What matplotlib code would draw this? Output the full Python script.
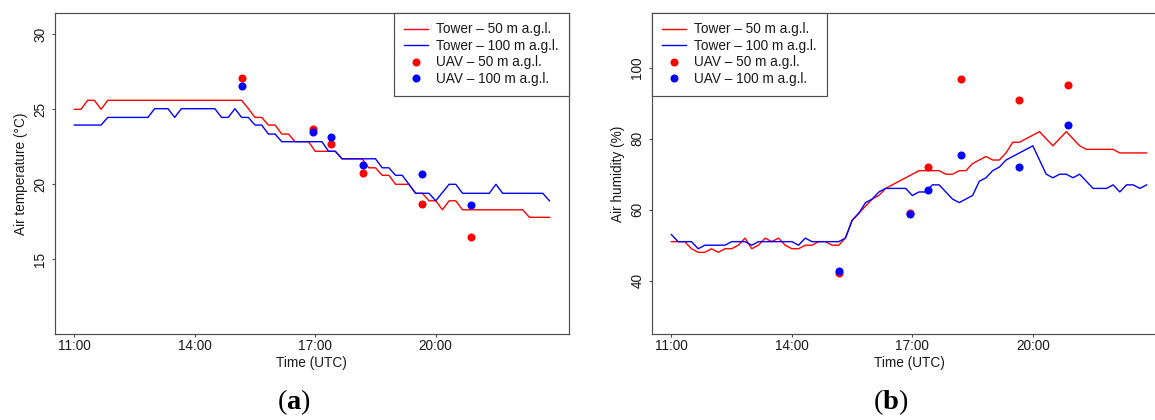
import numpy as np
import matplotlib
matplotlib.use("Agg")
import matplotlib.pyplot as plt

# ---------------- data ----------------
# tower samples every 10 min from 11:00 to 22:50 (hours since 11:00)
tower_time_h = np.arange(72) / 6.0

temp_tower_50 = [25.0, 25.0, 25.6, 25.6, 25.0, 25.6, 25.6, 25.6, 25.6, 25.6,
                 25.6, 25.6, 25.6, 25.6, 25.6, 25.6, 25.6, 25.6, 25.6, 25.6,
                 25.6, 25.6, 25.6, 25.6, 25.6, 25.6, 25.05, 24.46, 24.46, 23.95,
                 23.95, 23.35, 23.35, 22.84, 22.84, 22.84, 22.2, 22.2, 22.2, 22.2,
                 21.7, 21.7, 21.7, 21.7, 21.1, 21.1, 20.6, 20.6, 20.0, 20.0,
                 20.0, 19.4, 19.4, 18.9, 18.9, 18.3, 18.9, 18.9, 18.3, 18.3,
                 18.3, 18.3, 18.3, 18.3, 18.3, 18.3, 18.3, 18.3, 17.8, 17.8,
                 17.8, 17.8]
temp_tower_100 = [23.95, 23.95, 23.95, 23.95, 23.95, 24.46, 24.46, 24.46, 24.46, 24.46,
                  24.46, 24.46, 25.04, 25.04, 25.04, 24.46, 25.04, 25.04, 25.04, 25.04,
                  25.04, 25.04, 24.46, 24.46, 25.04, 24.46, 24.46, 23.95, 23.95, 23.35,
                  23.35, 22.84, 22.84, 22.84, 22.84, 22.84, 22.84, 22.84, 22.2, 22.2,
                  21.7, 21.7, 21.7, 21.7, 21.7, 21.7, 21.1, 21.1, 20.6, 20.6,
                  20.0, 19.4, 19.4, 19.4, 18.9, 19.45, 20.0, 20.0, 19.4, 19.4,
                  19.4, 19.4, 19.4, 20.0, 19.4, 19.4, 19.4, 19.4, 19.4, 19.4,
                  19.4, 18.9]

hum_tower_50 = [51, 51, 51, 49, 48, 48, 49, 48, 49, 49,
                50, 52, 49, 50, 52, 51, 52, 50, 49, 49,
                50, 50, 51, 51, 50, 50, 52, 57, 59, 61,
                63, 64, 66, 67, 68, 69, 70, 71, 71, 71,
                71, 70, 70, 71, 71, 73, 74, 75, 74, 74,
                76, 79, 79, 80, 81, 82, 80, 78, 80, 82,
                80, 78, 77, 77, 77, 77, 77, 76, 76, 76,
                76, 76]
hum_tower_100 = [53, 51, 51, 51, 49, 50, 50, 50, 50, 51,
                 51, 51, 50, 51, 51, 51, 51, 51, 51, 50,
                 52, 51, 51, 51, 51, 51, 52, 57, 59, 62,
                 63, 65, 66, 66, 66, 66, 64, 65, 65, 67,
                 67, 65, 63, 62, 63, 64, 68, 69, 71, 72,
                 74, 75, 76, 77, 78, 74, 70, 69, 70, 70,
                 69, 70, 68, 66, 66, 66, 67, 65, 67, 67,
                 66, 67]

# UAV profiles (hours since 11:00)
uav_time_h = [4.17, 5.94, 6.40, 7.20, 8.65, 9.88]
temp_uav_50 = [27.09, 23.67, 22.67, 20.73, 18.69, 16.47]
temp_uav_100 = [26.58, 23.47, 23.18, 21.29, 20.71, 18.64]
hum_uav_50 = [42.1, 59.0, 72.1, 96.7, 91.0, 95.2]
hum_uav_100 = [42.8, 58.9, 65.6, 75.4, 72.1, 83.8]

xtick_pos = [0, 3, 6, 9]
xtick_labels = ["11:00", "14:00", "17:00", "20:00"]
temp_ticks = [15, 20, 25, 30]
hum_ticks = [40, 60, 80, 100]

legend_labels = ["Tower \u2013 50 m a.g.l.", "Tower \u2013 100 m a.g.l.",
                 "UAV \u2013 50 m a.g.l.", "UAV \u2013 100 m a.g.l."]

# ---------------- style ----------------
plt.rcParams['font.family'] = ['Liberation Sans', 'DejaVu Sans']
plt.rcParams['mathtext.fontset'] = 'custom'
plt.rcParams['mathtext.rm'] = 'Liberation Serif'
plt.rcParams['mathtext.bf'] = 'Liberation Serif:bold'

RED = '#ff0000'
BLUE = '#0000ff'
FRAME = '#4d4d4d'
TXT = '#1a1a1a'
FS = 9.8

W, H = 1155.0, 420.0
fig = plt.figure(figsize=(W / 100, H / 100), dpi=100)
fig.patch.set_facecolor('white')

ax_top, ax_bot = 12.7, 334.3
ax_w = 513.2
axa = fig.add_axes([55.3 / W, 1 - ax_bot / H, ax_w / W, (ax_bot - ax_top) / H])
axb = fig.add_axes([652.4 / W, 1 - ax_bot / H, ax_w / W, (ax_bot - ax_top) / H])


def style_axis(ax, yticks, ylim, ylabel):
    ax.set_xlim(-0.4733, 11.8333 + 0.4733)
    ax.set_ylim(*ylim)
    ax.set_xticks(xtick_pos)
    ax.set_xticklabels(xtick_labels)
    ax.set_yticks(yticks)
    ax.set_yticklabels([str(v) for v in yticks])
    for s in ax.spines.values():
        s.set_color(FRAME)
        s.set_linewidth(0.85)
    ax.tick_params(direction='out', length=2.4, width=0.8, color=FRAME,
                   labelsize=FS, labelcolor=TXT)
    ax.tick_params(axis='x', pad=1.2)
    ax.tick_params(axis='y', labelrotation=90, pad=3.4)
    for lab in ax.get_yticklabels():
        lab.set_va('center')
    ax.set_xlabel("Time (UTC)", fontsize=FS, color=TXT)
    ax.xaxis.set_label_coords(0.5, -0.0665)
    ax.set_ylabel(ylabel, fontsize=FS, color=TXT)
    ax.yaxis.set_label_coords(-0.054, 0.5)


def draw(ax, t50, t100, u50, u100, loc, anchor):
    l1, = ax.plot(tower_time_h, t50, color=RED, lw=1.0, label=legend_labels[0])
    l2, = ax.plot(tower_time_h, t100, color=BLUE, lw=1.0, label=legend_labels[1])
    p1, = ax.plot(uav_time_h, u50, ls='none', marker='o', ms=5.8, color=RED,
                  mec='none', label=legend_labels[2])
    p2, = ax.plot(uav_time_h, u100, ls='none', marker='o', ms=5.8, color=BLUE,
                  mec='none', label=legend_labels[3])
    leg = ax.legend(handles=[l1, l2, p1, p2], loc=loc, bbox_to_anchor=anchor,
                    borderaxespad=0, fancybox=False, frameon=True, framealpha=1,
                    edgecolor=FRAME, fontsize=FS, handlelength=1.76,
                    handletextpad=0.6, borderpad=0.72, labelspacing=0.18,
                    numpoints=1)
    leg.get_frame().set_linewidth(0.85)
    for t in leg.get_texts():
        t.set_color(TXT)


draw(axa, temp_tower_50, temp_tower_100, temp_uav_50, temp_uav_100,
     'upper right', (1, 1))
style_axis(axa, temp_ticks, (10.0, 31.44), "Air temperature (\u00b0C)")

draw(axb, hum_tower_50, hum_tower_100, hum_uav_50, hum_uav_100,
     'upper left', (0, 1))
style_axis(axb, hum_ticks, (24.9, 115.5), "Air humidity (%)")

# panel letters
fig.text(293.7 / W, 1 - 402.5 / H, r"($\mathbf{a}$)", ha='center', va='center',
         fontsize=20.5, family='Liberation Serif', color='black')
fig.text(891.0 / W, 1 - 402.5 / H, r"($\mathbf{b}$)", ha='center', va='center',
         fontsize=20.5, family='Liberation Serif', color='black')

fig.savefig("out.png", dpi=100)
